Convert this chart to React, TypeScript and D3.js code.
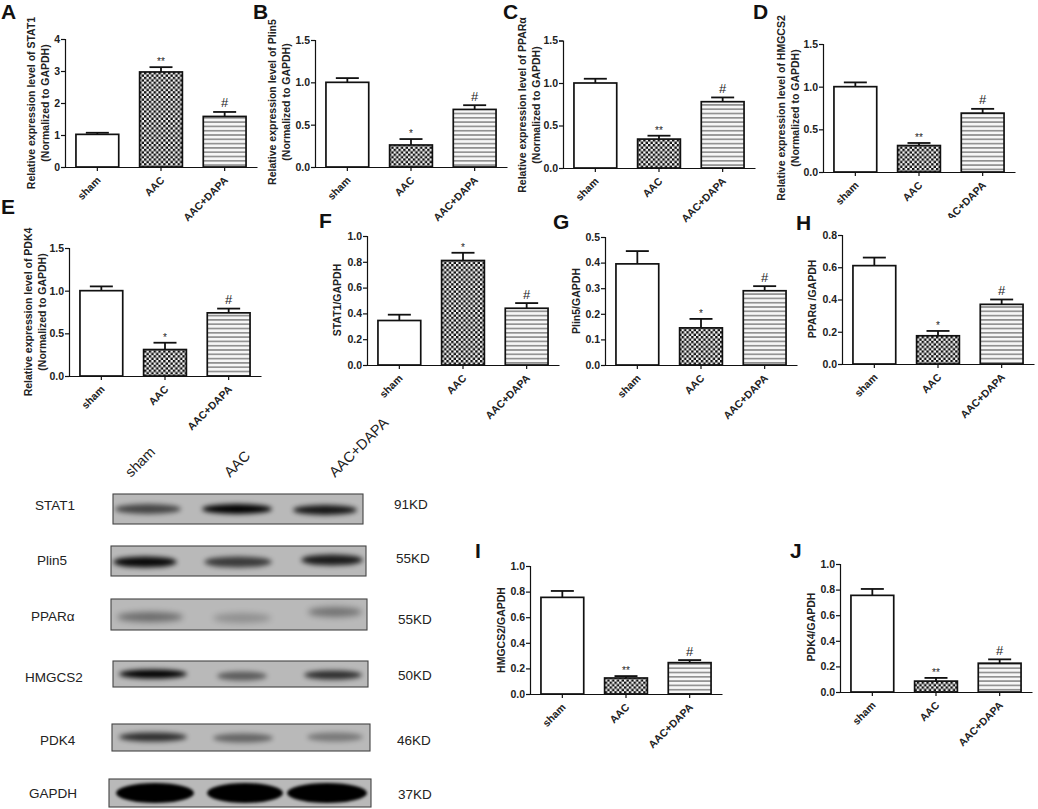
import { useRef, useEffect } from "react";
import * as d3 from "d3";

const groups = ["sham", "AAC", "AAC+DAPA"];

// bar heights and error bars
const stat1RelMean = [1.02, 2.97, 1.58];
const stat1RelErr = [0.05, 0.15, 0.14];
const plin5RelMean = [1.0, 0.26, 0.68];
const plin5RelErr = [0.05, 0.07, 0.05];
const pparRelMean = [1.0, 0.34, 0.78];
const pparRelErr = [0.05, 0.04, 0.05];
const hmgcs2RelMean = [1.0, 0.31, 0.69];
const hmgcs2RelErr = [0.05, 0.03, 0.05];
const pdk4RelMean = [1.0, 0.31, 0.74];
const pdk4RelErr = [0.05, 0.08, 0.05];
const stat1Mean = [0.345, 0.81, 0.44];
const stat1Err = [0.045, 0.06, 0.04];
const plin5Mean = [0.395, 0.145, 0.29];
const plin5Err = [0.05, 0.035, 0.018];
const pparMean = [0.61, 0.175, 0.37];
const pparErr = [0.05, 0.03, 0.03];
const hmgcs2Mean = [0.755, 0.125, 0.245];
const hmgcs2Err = [0.05, 0.015, 0.02];
const pdk4Mean = [0.755, 0.085, 0.225];
const pdk4Err = [0.05, 0.025, 0.03];

const ticks4 = [0, 1, 2, 3, 4];
const ticks15 = [0, 0.5, 1.0, 1.5];
const ticks10 = [0, 0.2, 0.4, 0.6, 0.8, 1.0];
const ticks05 = [0, 0.1, 0.2, 0.3, 0.4, 0.5];
const ticks08 = [0, 0.2, 0.4, 0.6, 0.8];

const panels = [
  { letter: "A", lx: 1, ly: 19, ax: 65, top: 39, bottom: 167, ticks: ticks4, fmt: "d", mean: stat1RelMean, err: stat1RelErr, sig: ["", "**", "#"], title: ["Relative expression level of STAT1", "(Normalized to GAPDH)"], tx: 32, ty: 103 },
  { letter: "B", lx: 253, ly: 19, ax: 315, top: 40, bottom: 167, ticks: ticks15, fmt: ".1f", mean: plin5RelMean, err: plin5RelErr, sig: ["", "*", "#"], title: ["Relative expression level of Plin5", "(Normalized to GAPDH)"], tx: 273, ty: 102 },
  { letter: "C", lx: 503, ly: 19, ax: 563, top: 40.5, bottom: 168, ticks: ticks15, fmt: ".1f", mean: pparRelMean, err: pparRelErr, sig: ["", "**", "#"], title: ["Relative expression level of PPARα", "(Normalized to GAPDH)"], tx: 523, ty: 105 },
  { letter: "D", lx: 753, ly: 19, ax: 823, top: 44, bottom: 172, ticks: ticks15, fmt: ".1f", mean: hmgcs2RelMean, err: hmgcs2RelErr, sig: ["", "**", "#"], title: ["Relative expression level of HMGCS2", "(Normalized to GAPDH)"], tx: 782, ty: 108 },
  { letter: "E", lx: 1, ly: 214, ax: 69, top: 248, bottom: 376, ticks: ticks15, fmt: ".1f", mean: pdk4RelMean, err: pdk4RelErr, sig: ["", "*", "#"], title: ["Relative expression level of PDK4", "(Normalized to GAPDH)"], tx: 29, ty: 312 },
  { letter: "F", lx: 319, ly: 228, ax: 367, top: 236, bottom: 365, ticks: ticks10, fmt: ".1f", mean: stat1Mean, err: stat1Err, sig: ["", "*", "#"], title: ["STAT1/GAPDH"], tx: 338, ty: 300 },
  { letter: "G", lx: 553, ly: 229, ax: 605, top: 237, bottom: 365, ticks: ticks05, fmt: ".1f", mean: plin5Mean, err: plin5Err, sig: ["", "*", "#"], title: ["Plin5/GAPDH"], tx: 577, ty: 301 },
  { letter: "H", lx: 796, ly: 230, ax: 842, top: 235, bottom: 364, ticks: ticks08, fmt: ".1f", mean: pparMean, err: pparErr, sig: ["", "*", "#"], title: ["PPARα /GAPDH"], tx: 813, ty: 299 },
  { letter: "I", lx: 475, ly: 558, ax: 530, top: 566, bottom: 694, ticks: ticks10, fmt: ".1f", mean: hmgcs2Mean, err: hmgcs2Err, sig: ["", "**", "#"], title: ["HMGCS2/GAPDH"], tx: 502, ty: 630 },
  { letter: "J", lx: 790, ly: 558, ax: 840, top: 564, bottom: 692, ticks: ticks10, fmt: ".1f", mean: pdk4Mean, err: pdk4Err, sig: ["", "**", "#"], title: ["PDK4/GAPDH"], tx: 812, ty: 627 },
];

// western blot strips, band darkness estimated by eye
const blotNames = ["STAT1", "Plin5", "PPARα", "HMGCS2", "PDK4", "GAPDH"];
const blotWeights = ["91KD", "55KD", "55KD", "50KD", "46KD", "37KD"];
const stat1Bands = [0.62, 1, 0.88];
const plin5Bands = [0.95, 0.68, 0.85];
const pparBands = [0.42, 0.22, 0.38];
const hmgcs2Bands = [1, 0.5, 0.75];
const pdk4Bands = [0.75, 0.45, 0.34];
const gapdhBands = [1, 1, 1];

const blots = [
  { x: 113, y: 494, w: 250, h: 30, bands: stat1Bands, lanes: [148, 237, 325], bandY: [15, 15, 16], bandW: [66, 70, 64], bandH: 10, blur: 2.6, nx: 35, ny: 510, kx: 394, ky: 509 },
  { x: 111, y: 546, w: 255, h: 30, bands: plin5Bands, lanes: [145, 238, 332], bandY: [16, 16, 14], bandW: [64, 68, 62], bandH: 11, blur: 2.6, nx: 37, ny: 565, kx: 396, ky: 563 },
  { x: 111, y: 599, w: 256, h: 31, bands: pparBands, lanes: [150, 242, 335], bandY: [18, 19, 13], bandW: [66, 58, 54], bandH: 10, blur: 3.2, nx: 31, ny: 621, kx: 398, ky: 624 },
  { x: 113, y: 661, w: 255, h: 26, bands: hmgcs2Bands, lanes: [153, 242, 333], bandY: [13, 15, 14], bandW: [68, 50, 58], bandH: 9, blur: 2.4, nx: 25, ny: 682, kx: 398, ky: 680 },
  { x: 112, y: 724, w: 258, h: 27, bands: pdk4Bands, lanes: [153, 243, 335], bandY: [13, 14, 13], bandW: [68, 60, 56], bandH: 9, blur: 2.8, nx: 40, ny: 745, kx: 397, ky: 745 },
  { x: 109, y: 779, w: 262, h: 28, bands: gapdhBands, lanes: [155, 245, 327], bandY: [14, 14, 14], bandW: [78, 76, 80], bandH: 20, blur: 1.8, nx: 29, ny: 798, kx: 398, ky: 799 },
];
const laneLabelX = [131, 230, 335];

const FONT = "'Liberation Sans', Arial, sans-serif";
const fills = ["#ffffff", "url(#checker)", "url(#stripes)"];

const App = () => {
  const svgRef = useRef<SVGSVGElement | null>(null);

  useEffect(() => {
    const svg = d3.select(svgRef.current);
    svg.selectAll("*").remove();

    const defs = svg.append("defs");
    const checker = defs.append("pattern").attr("id", "checker").attr("width", 4.8).attr("height", 4.8).attr("patternUnits", "userSpaceOnUse");
    checker.append("rect").attr("width", 4.8).attr("height", 4.8).attr("fill", "#f4f4f4");
    checker.append("rect").attr("width", 2.4).attr("height", 2.4).attr("fill", "#111");
    checker.append("rect").attr("x", 2.4).attr("y", 2.4).attr("width", 2.4).attr("height", 2.4).attr("fill", "#111");
    const stripes = defs.append("pattern").attr("id", "stripes").attr("width", 4.3).attr("height", 4.3).attr("patternUnits", "userSpaceOnUse");
    stripes.append("rect").attr("width", 4.3).attr("height", 4.3).attr("fill", "#f6f6f6");
    stripes.append("rect").attr("y", 1).attr("width", 4.3).attr("height", 1.4).attr("fill", "#7c7c7c");

    panels.forEach((p) => {
      const g = svg.append("g").attr("font-family", FONT);
      const x = d3.scaleBand<string>().domain(groups).range([p.ax, p.ax + 192]).paddingInner(0.328).paddingOuter(0.172);
      const y = d3.scaleLinear().domain([p.ticks[0], p.ticks[p.ticks.length - 1]]).range([p.bottom, p.top]);

      // error bars behind the bars
      groups.forEach((name, i) => {
        const cx = (x(name) || 0) + x.bandwidth() / 2;
        const top = y(p.mean[i] + p.err[i]);
        g.append("line").attr("x1", cx).attr("x2", cx).attr("y1", y(p.mean[i])).attr("y2", top).attr("stroke", "#111").attr("stroke-width", 1.8);
        g.append("line").attr("x1", cx - 11.5).attr("x2", cx + 11.5).attr("y1", top).attr("y2", top).attr("stroke", "#111").attr("stroke-width", 1.8);
        if (p.sig[i] === "#") {
          g.append("text").attr("x", cx).attr("y", top - 4.5).attr("text-anchor", "middle").attr("font-size", 13).attr("fill", "#222").text("#");
        } else if (p.sig[i]) {
          g.append("text").attr("x", cx).attr("y", top - 2).attr("text-anchor", "middle").attr("font-size", 10).attr("fill", "#222").text(p.sig[i]);
        }
      });

      g.selectAll(".bar")
        .data(groups)
        .join("rect")
        .attr("x", (d) => x(d) || 0)
        .attr("y", (_, i) => y(p.mean[i]))
        .attr("width", x.bandwidth())
        .attr("height", (_, i) => p.bottom - y(p.mean[i]))
        .attr("fill", (_, i) => fills[i])
        .attr("stroke", "#111")
        .attr("stroke-width", 1.7);

      const yAxis = g.append("g")
        .attr("transform", `translate(${p.ax},0)`)
        .call(d3.axisLeft(y).tickValues(p.ticks).tickSize(4).tickPadding(1).tickFormat(d3.format(p.fmt) as any));
      const xAxis = g.append("g")
        .attr("transform", `translate(0,${p.bottom})`)
        .call(d3.axisBottom(x).tickSize(4).tickSizeOuter(0));
      [yAxis, xAxis].forEach((a) => {
        a.attr("font-family", FONT).attr("font-size", 10.5).attr("font-weight", "bold");
        a.selectAll("path,line").attr("stroke", "#111").attr("stroke-width", 1.2);
        a.selectAll("text").attr("fill", "#222");
      });
      xAxis.selectAll("text")
        .attr("text-anchor", "end")
        .attr("x", 0)
        .attr("y", 0)
        .attr("dy", 0)
        .attr("transform", "translate(4,14) rotate(-45)");

      // y axis title, one or two lines
      p.title.forEach((line, i) => {
        const tx = p.tx + i * 14;
        g.append("text")
          .attr("transform", `translate(${tx},${p.ty}) rotate(-90)`)
          .attr("text-anchor", "middle")
          .attr("dominant-baseline", "middle")
          .attr("font-size", 10.5)
          .attr("font-weight", "bold")
          .attr("fill", "#222")
          .text(line);
      });

      svg.append("text")
        .attr("x", p.lx)
        .attr("y", p.ly)
        .attr("font-family", FONT)
        .attr("font-size", 21)
        .attr("font-weight", "bold")
        .attr("fill", "#111")
        .text(p.letter);
    });

    // the AAC+DAPA label of panel D is cut off in the figure
    svg.append("rect").attr("x", 935).attr("y", 218).attr("width", 24).attr("height", 12).attr("fill", "#fff");

    // western blots
    const blot = svg.append("g").attr("font-family", FONT);
    blots.forEach((b, k) => {
      const fid = `blur${k}`;
      const cid = `clip${k}`;
      defs.append("filter").attr("id", fid).attr("x", "-30%").attr("y", "-100%").attr("width", "160%").attr("height", "300%")
        .append("feGaussianBlur").attr("stdDeviation", b.blur);
      defs.append("clipPath").attr("id", cid).append("rect").attr("x", b.x).attr("y", b.y).attr("width", b.w).attr("height", b.h);

      const laneX = d3.scaleOrdinal<string, number>().domain(groups).range(b.lanes);
      blot.append("rect").attr("x", b.x).attr("y", b.y).attr("width", b.w).attr("height", b.h).attr("fill", "#b9b9b9");
      blot.append("g").attr("clip-path", `url(#${cid})`)
        .selectAll("ellipse")
        .data(groups)
        .join("ellipse")
        .attr("cx", (d) => laneX(d))
        .attr("cy", (_, i) => b.y + b.bandY[i])
        .attr("rx", (_, i) => b.bandW[i] / 2)
        .attr("ry", b.bandH / 2)
        .attr("fill", "#000")
        .attr("opacity", (_, i) => b.bands[i])
        .attr("filter", `url(#${fid})`);
      blot.append("rect").attr("x", b.x).attr("y", b.y).attr("width", b.w).attr("height", b.h).attr("fill", "none").attr("stroke", "#444").attr("stroke-width", 1.1);

      blot.append("text").attr("x", b.nx).attr("y", b.ny).attr("font-size", 13.5).attr("fill", "#222").text(blotNames[k]);
      blot.append("text").attr("x", b.kx).attr("y", b.ky).attr("font-size", 13.5).attr("fill", "#222").text(blotWeights[k]);
    });

    groups.forEach((name, i) => {
      blot.append("text")
        .attr("transform", `translate(${laneLabelX[i]},478) rotate(-45)`)
        .attr("font-size", 14.5)
        .attr("fill", "#222")
        .text(name);
    });
  }, []);

  return (
    <svg
      ref={svgRef}
      width={1038}
      height={809}
      style={{ position: "absolute", left: 0, top: 0, display: "block", background: "#fff" }}
    ></svg>
  );
};

export default App;
